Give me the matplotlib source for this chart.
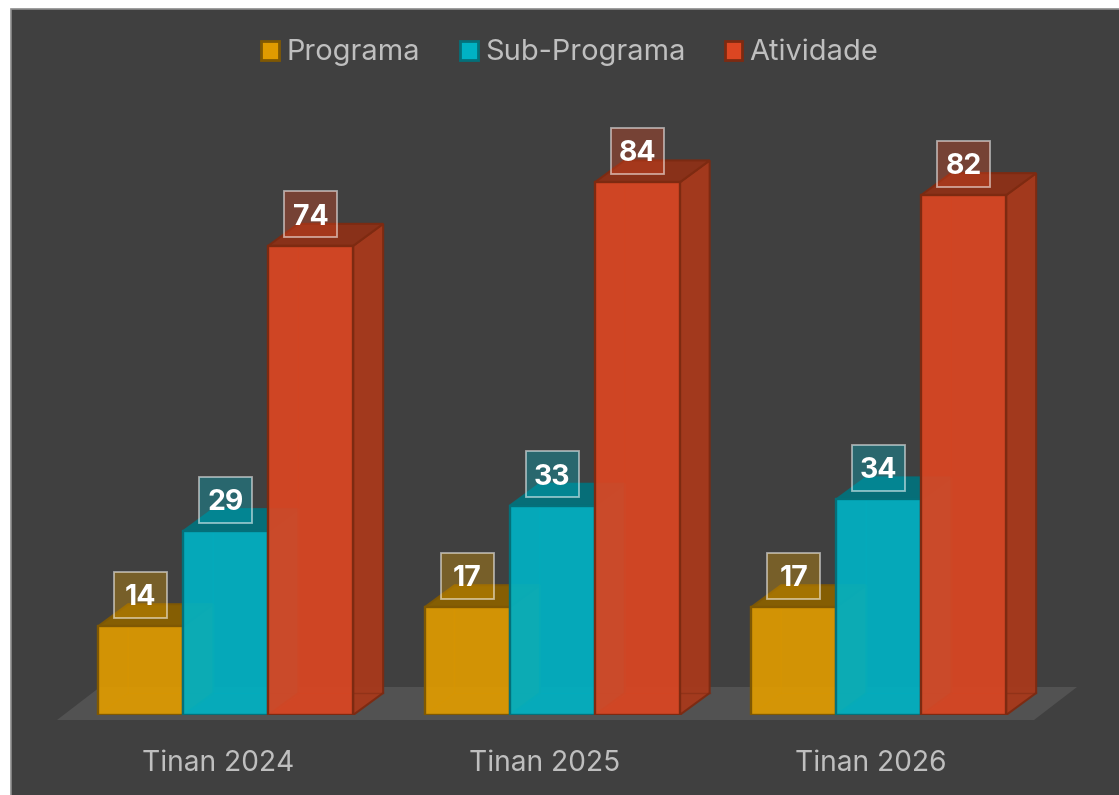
import matplotlib
matplotlib.use('Agg')
import matplotlib.pyplot as plt
from matplotlib.patches import Polygon, Rectangle, Patch

plt.rcParams['font.family'] = ['Inter', 'DejaVu Sans']

# data
years = ['Tinan 2024', 'Tinan 2025', 'Tinan 2026']
series = ['Programa', 'Sub-Programa', 'Atividade']
programa = [14, 17, 17]
sub_programa = [29, 33, 34]
atividade = [74, 84, 82]
values = [programa, sub_programa, atividade]

# colours per series
front = ['#E09B00', '#00B2C4', '#DC4622']
side = ['#9A6A00', '#047F8B', '#A8391C']
top = ['#8A6000', '#03717C', '#8E3117']
edge = ['#7F5803', '#04707A', '#7D2A11']

W, H = 1119, 795
PX_PER_X = 85.0      # one bar is one x unit
PX_PER_Y = 6.34
BASE = 715           # baseline in pixels from the top
PANEL_L, PANEL_T = 10.5, 8.5
GROUP_STEP = 326.5 / PX_PER_X
BAR_SHIFT = -1.41    # left edge of group relative to the tick
DX = 30 / PX_PER_X   # depth of the boxes
DY = 22 / PX_PER_Y

fig = plt.figure(figsize=(W / 100, H / 100), dpi=100, facecolor='white')
fig.patches.append(Rectangle((PANEL_L / W, -0.02), 1.1, 1.02 - PANEL_T / H, transform=fig.transFigure,
                             facecolor='#404040', edgecolor='#8C8C8C', linewidth=1.2, figure=fig, zorder=-1))

ax = fig.add_axes([PANEL_L / W, 1 - BASE / H, 1 - PANEL_L / W, (BASE - PANEL_T) / H])
ax.patch.set_alpha(0)
ax.set_xlim(-(218 - PANEL_L) / PX_PER_X, (W - 218) / PX_PER_X)
ax.set_ylim(0, (BASE - PANEL_T) / PX_PER_Y)
for s in ax.spines.values():
    s.set_visible(False)
ax.set_yticks([])

ticks = [i * GROUP_STEP for i in range(len(years))]
ax.set_xticks(ticks)
ax.set_xticklabels(years, fontsize=20.3, color='#BFBFBF')
ax.tick_params(axis='x', length=0, pad=25)

# floor
fl = (57 - 218) / PX_PER_X
fr = (1034 - 218) / PX_PER_X
ax.add_patch(Polygon([(fl, -5 / PX_PER_Y), (fr, -5 / PX_PER_Y),
                      (fr + 43 / PX_PER_X, 28 / PX_PER_Y), (fl + 43 / PX_PER_X, 28 / PX_PER_Y)],
                     closed=True, facecolor='#525252', edgecolor='none', clip_on=False, zorder=1))

z = 2
for g, tick in enumerate(ticks):
    for j in range(len(series)):
        v = values[j][g]
        x0 = tick + BAR_SHIFT + j
        x1 = x0 + 1
        # side and top faces
        ax.add_patch(Polygon([(x1, 0), (x1 + DX, DY), (x1 + DX, v + DY), (x1, v)], closed=True,
                             facecolor=side[j], edgecolor=edge[j], linewidth=1.5, alpha=0.95, zorder=z))
        ax.add_patch(Polygon([(x0, v), (x1, v), (x1 + DX, v + DY), (x0 + DX, v + DY)], closed=True,
                             facecolor=top[j], edgecolor=edge[j], linewidth=1.5, alpha=0.95, zorder=z))
        # inner edges seen through the front
        ax.plot([x0, x0 + DX, x0 + DX], [0, DY, v], color=edge[j], lw=1, alpha=0.45, zorder=z)
        ax.plot([x0 + DX, x1 + DX], [DY, DY], color=edge[j], lw=1, alpha=0.45, zorder=z)
        # front face
        ax.add_patch(Rectangle((x0, 0), 1, v, facecolor=front[j], edgecolor='none', alpha=0.92, zorder=z + 1))
        ax.add_patch(Rectangle((x0, 0), 1, v, facecolor='none', edgecolor=edge[j], linewidth=1.7, zorder=z + 1))
        z += 2

# value labels
BOX_W = 53 / PX_PER_X
BOX_H = 46 / PX_PER_Y
LABEL_UP = 31.5 / PX_PER_Y
for g, tick in enumerate(ticks):
    for j in range(len(series)):
        v = values[j][g]
        xc = tick + BAR_SHIFT + j + 0.5
        yc = v + LABEL_UP
        ax.add_patch(Rectangle((xc - BOX_W / 2, yc - BOX_H / 2), BOX_W, BOX_H,
                               facecolor=front[j], edgecolor='none', alpha=0.35, zorder=50))
        ax.add_patch(Rectangle((xc - BOX_W / 2, yc - BOX_H / 2), BOX_W, BOX_H,
                               facecolor='none', edgecolor=(1, 1, 1, 0.55), linewidth=1.3, zorder=50))
        ax.text(xc, yc, str(v), ha='center', va='center_baseline', fontsize=20.5, fontweight='bold',
                color='white', zorder=51)

handles = [Patch(facecolor=front[j], edgecolor=edge[j], linewidth=2, label=series[j]) for j in range(len(series))]
ax.legend(handles=handles, ncol=3, loc='center', bbox_to_anchor=(570 / W, 1 - 53 / H),
          bbox_transform=fig.transFigure, frameon=False, fontsize=20.9, labelcolor='#BFBFBF',
          handlelength=0.62, handleheight=0.62, handletextpad=0.25, columnspacing=1.35, borderpad=0)

plt.savefig('out.png', dpi=100)
